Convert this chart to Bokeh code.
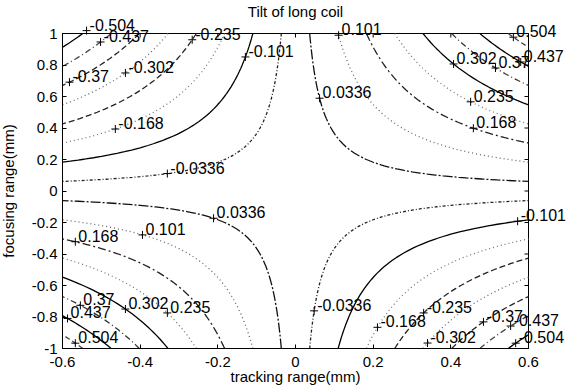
import numpy as np
import contourpy
from bokeh.plotting import figure
from bokeh.models import FixedTicker, ColumnDataSource, Label, Range1d
from bokeh.embed import file_html
from bokeh.resources import INLINE

# ---------------- data ----------------
title_text = "Tilt of long coil"
x_label = "tracking range(mm)"
y_label = "focusing range(mm)"

x_ticks = [-0.6, -0.4, -0.2, 0.0, 0.2, 0.4, 0.6]
x_tick_labels = ["-0.6", "-0.4", "-0.2", "0", "0.2", "0.4", "0.6"]
y_ticks = [-1.0, -0.8, -0.6, -0.4, -0.2, 0.0, 0.2, 0.4, 0.6, 0.8, 1.0]
y_tick_labels = ["-1", "-0.8", "-0.6", "-0.4", "-0.2", "0", "0.2", "0.4", "0.6", "0.8", "1"]

tracking = np.linspace(-0.6, 0.6, 61)
focusing = np.linspace(-1.0, 1.0, 101)
tilt_gain = 0.92

levels = [-0.504, -0.437, -0.37, -0.302, -0.235, -0.168, -0.101, -0.0336,
          0.0336, 0.101, 0.168, 0.235, 0.302, 0.37, 0.437, 0.504]

# contour labels: level, label text, tracking position of the "+" mark
label_levels = [-0.504, -0.437, -0.37, -0.302, -0.235, -0.168, -0.101, -0.0336,
                0.101, 0.0336, 0.504, 0.437, 0.37, 0.302, 0.235, 0.168,
                0.0336, 0.101, 0.168, 0.235, 0.302, 0.37, 0.437, 0.504,
                -0.0336, -0.168, -0.235, -0.302, -0.37, -0.437, -0.504, -0.101]
label_texts = ["-0.504", "-0.437", "-0.37", "-0.302", "-0.235", "-0.168", "-0.101", "-0.0336",
               "0.101", "0.0336", "0.504", "0.437", "0.37", "0.302", "0.235", "0.168",
               "0.0336", "0.101", "0.168", "0.235", "0.302", "0.37", "0.437", "0.504",
               "-0.0336", "-0.168", "-0.235", "-0.302", "-0.37", "-0.437", "-0.504", "-0.101"]
label_tracking = [-0.538, -0.502, -0.582, -0.438, -0.266, -0.464, -0.129, -0.33,
                  0.111, 0.062, 0.561, 0.58, 0.515, 0.407, 0.451, 0.458,
                  -0.211, -0.394, -0.567, -0.33, -0.438, -0.554, -0.587, -0.567,
                  0.048, 0.211, 0.33, 0.34, 0.484, 0.554, 0.567, 0.572]

# ---------------- styles ----------------
level_styles = {
    -0.504: ("#000000", "solid"),
    -0.437: ("#444444", "6 3 1 3"),
    -0.37: ("#222222", "6 3"),
    -0.302: ("#666666", "1 3"),
    -0.235: ("#222222", "6 3"),
    -0.168: ("#777777", "1 3"),
    -0.101: ("#000000", "solid"),
    -0.0336: ("#222222", "3 2 1 2"),
    0.0336: ("#111111", "10 2 2 2"),
    0.101: ("#666666", "1 3"),
    0.168: ("#222222", "8 3 2 3"),
    0.235: ("#777777", "1 3"),
    0.302: ("#000000", "solid"),
    0.37: ("#333333", "6 3 1 3"),
    0.437: ("#000000", "solid"),
    0.504: ("#444444", "5 3"),
}

FONT = "Liberation Sans"
X0, X1 = x_ticks[0], x_ticks[-1]
Y0, Y1 = y_ticks[0], y_ticks[-1]

# ---------------- layout (pixels) ----------------
W, H = 569, 386
BOX_L, BOX_R, BOX_T, BOX_B = 62, 528, 33, 348   # plot box edges on the page
px_x = (BOX_R - BOX_L) / (X1 - X0)
px_y = (BOX_B - BOX_T) / (Y1 - Y0)
x_range = Range1d(X0 - BOX_L / px_x, X1 + (W - BOX_R) / px_x)
y_range = Range1d(Y0 - (H - BOX_B) / px_y, Y1 + BOX_T / px_y)

p = figure(frame_width=W, frame_height=H, x_range=x_range, y_range=y_range,
           output_backend="svg", toolbar_location=None, title=None,
           min_border=0, background_fill_color="white", border_fill_color="white")
p.xgrid.visible = False
p.ygrid.visible = False
p.outline_line_color = None

# plot box
p.quad(left=X0, right=X1, bottom=Y0, top=Y1, fill_color=None, line_color="black", line_width=1)

X, Y = np.meshgrid(tracking, focusing)
Z = tilt_gain * X * Y
gen = contourpy.contour_generator(tracking, focusing, Z)
for lev in levels:
    segs = gen.lines(lev)
    xs = [s[:, 0].tolist() for s in segs]
    ys = [s[:, 1].tolist() for s in segs]
    color, dash = level_styles[lev]
    p.multi_line(xs, ys, line_color=color, line_dash=dash, line_width=1.3)

label_x = np.array(label_tracking)
label_y = np.array(label_levels) / (tilt_gain * label_x)
src = ColumnDataSource(dict(x=label_x, y=label_y, text=label_texts))
p.scatter("x", "y", source=src, marker="cross", size=8, line_color="black", line_width=1)
for lx, ly, lt in zip(label_x, label_y, label_texts):
    p.add_layout(Label(x=lx, y=ly, text=lt, x_offset=3, y_offset=0,
                       text_baseline="bottom", text_align="left",
                       text_font=FONT, text_font_size="16px", text_color="black"))

# title
p.add_layout(Label(x=(X0 + X1) / 2, y=Y1, text=title_text, y_offset=14,
                   text_align="center", text_baseline="bottom",
                   text_font=FONT, text_font_size="15px", text_color="black"))

# mirrored inward ticks on the top and right edges
p.ray(x=x_ticks, y=[Y1] * len(x_ticks), length=4, length_units="screen", angle=-np.pi / 2,
      line_color="black", line_width=1)
p.ray(x=[X1] * len(y_ticks), y=y_ticks, length=4, length_units="screen", angle=np.pi,
      line_color="black", line_width=1)

xa, ya = p.xaxis[0], p.yaxis[0]
xa.fixed_location = Y0
ya.fixed_location = X0
xa.bounds = (X0, X1)
ya.bounds = (Y0, Y1)
for ax, ticks, tl in ((xa, x_ticks, x_tick_labels), (ya, y_ticks, y_tick_labels)):
    ax.ticker = FixedTicker(ticks=ticks)
    ax.major_label_overrides = {t: s for t, s in zip(ticks, tl)}
    ax.minor_tick_line_color = None
    ax.major_tick_in = 4
    ax.major_tick_out = 0
    ax.major_label_text_font = FONT
    ax.major_label_text_font_size = "15px"
    ax.major_label_text_color = "black"
    ax.axis_label_text_font = FONT
    ax.axis_label_text_font_size = "15px"
    ax.axis_label_text_font_style = "normal"
    ax.axis_label_text_color = "black"
    ax.axis_line_color = "black"
    ax.major_tick_line_color = "black"

xa.major_label_standoff = 8
xa.axis_label_standoff = -2
ya.major_label_standoff = 5
ya.axis_label_standoff = 12
xa.axis_label = x_label
ya.axis_label = y_label

open("out.html", "w").write(file_html(p, INLINE))
